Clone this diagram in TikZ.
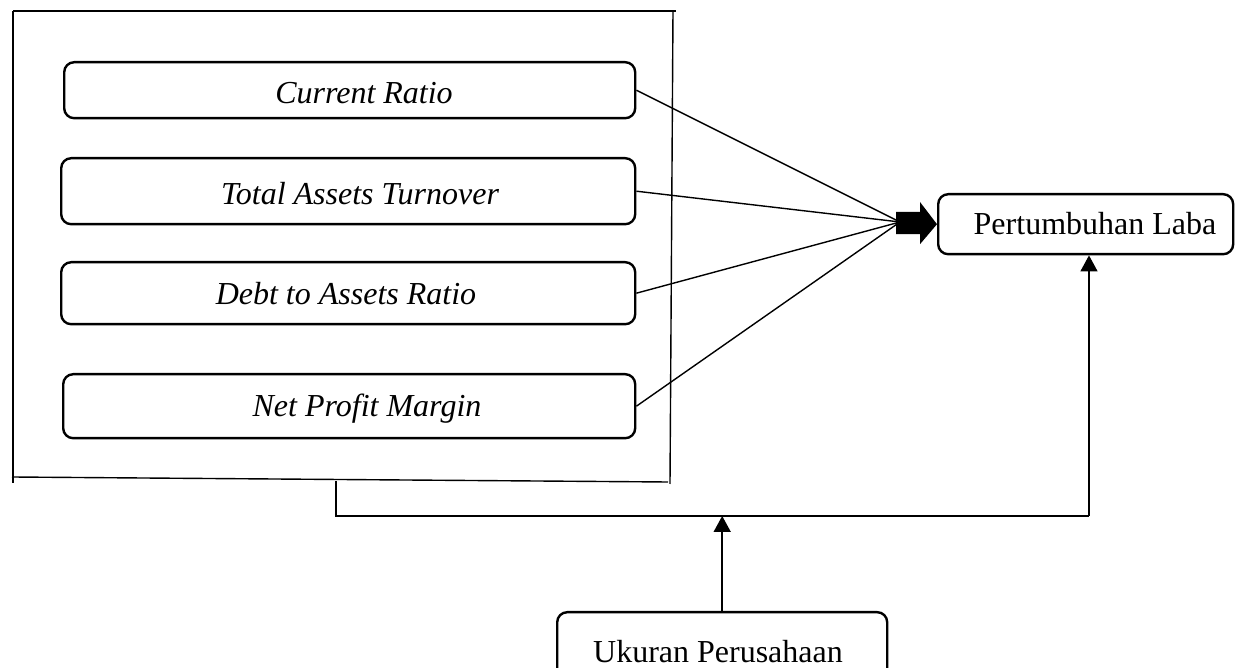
\documentclass[tikz,border=0pt]{standalone}
\usepackage{fontspec}
\setmainfont{Liberation Serif}
\usetikzlibrary{arrows.meta}
\begin{document}
\begin{tikzpicture}[x=0.5pt,y=-0.5pt,
  box/.style={draw, line width=1.2pt, rounded corners=5pt, inner sep=0pt, anchor=north west},
  lbl/.style={font=\fontsize{16}{19}\selectfont\itshape, inner sep=0pt},
  ulbl/.style={font=\fontsize{16}{19}\selectfont, inner sep=0pt},
  thinline/.style={line width=0.7pt},
  tip/.style={-{Triangle[length=8pt,width=8.5pt]}}]
\clip (0,0) rectangle (1250,668);
% outer frame
\draw[thinline] (13,11) -- (676,11);
\draw[thinline] (13,11) -- (13,483);
\draw[thinline] (12,477) -- (668,482);
\draw[thinline] (673,11) -- (670,484);
% boxes
\node[box, minimum width=285.5pt, minimum height=28pt] (cr) at (63,61) {};
\node[box, minimum width=287pt, minimum height=33pt] (ta) at (60,157) {};
\node[box, minimum width=287pt, minimum height=31pt] (da) at (60,261) {};
\node[box, minimum width=286pt, minimum height=32pt] (np) at (62,373) {};
\node[box, minimum width=147.5pt, minimum height=30pt] (laba) at (937,193) {};
\node[box, minimum width=165pt, minimum height=40pt] (uk) at (556,611) {};
% texts
\node[lbl] (crT) at (364,93) {Current Ratio};
\node[lbl] (taT) at (360,194) {Total Assets Turnover};
\node[lbl] (daT) at (346,294) {Debt to Assets Ratio};
\node[lbl] (npT) at (367,409) {Net Profit Margin};
\node[ulbl] (labaT) at (1095,224) {Pertumbuhan Laba};
\node[ulbl] (ukT) at (718,652) {Ukuran Perusahaan};
% convergence
\coordinate (conv) at (900,222);
\draw[thinline] (cr.east) -- (conv);
\draw[thinline] (ta.east) -- (conv);
\draw[thinline] (da.east) -- (conv);
\draw[thinline] (np.east) -- (conv);
\fill (conv) ++(-4,-10) -- ++(24,0) -- ++(0,-10) -- (laba.west) -- ++(-17,20) -- ++(0,-10) -- ++(-24,0) -- cycle;
% moderation connector
\coordinate (gb) at (336,481);
\coordinate (jl) at (336,516);
\coordinate (jr) at (1089,516);
\draw[line width=0.8pt] (gb) -- (jl) -- (jr);
\draw[thinline, tip] (jr) -- (jr |- laba.south);
\draw[line width=0.8pt, tip] (uk.north) -- (uk.north |- jl);
\end{tikzpicture}
\end{document}
